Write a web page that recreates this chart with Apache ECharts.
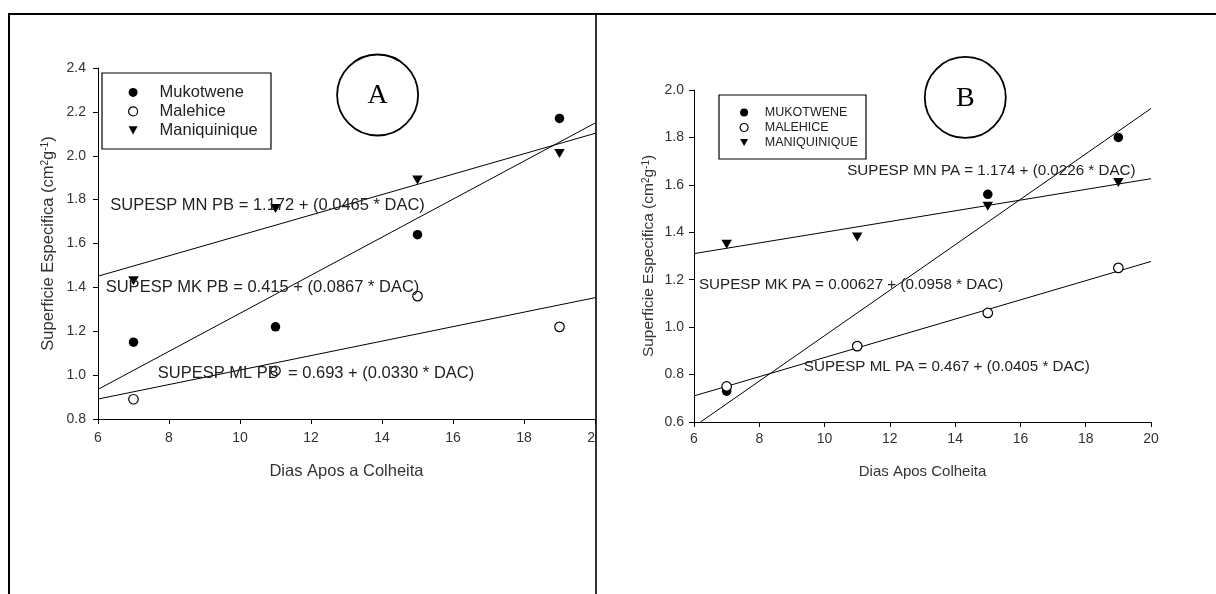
<!DOCTYPE html>
<html>
<head>
<meta charset="utf-8">
<script src="https://cdn.jsdelivr.net/npm/echarts@6/dist/echarts.min.js"></script>
<style>
html,body{margin:0;padding:0;background:#fff;}
#chart{width:1216px;height:594px;}
</style>
</head>
<body>
<div id="chart"></div>
<script>
// ---- Data ----
const daysA = [7, 11, 15, 19];
const mukotweneA = [1.15, 1.22, 1.64, 2.17];
const malehiceA = [0.89, 1.02, 1.36, 1.22];
const maniquiniqueA = [1.43, 1.76, 1.89, 2.01];

const daysB = [7, 11, 15, 19];
const mukotweneB = [0.73, 0.92, 1.56, 1.80];
const malehiceB = [0.75, 0.92, 1.06, 1.25];
const maniquiniqueB = [1.35, 1.38, 1.51, 1.61];

// regression line end points [x, y]
const fitMnA = [[6, 1.451], [20, 2.102]];
const fitMkA = [[6, 0.935], [20, 2.149]];
const fitMlA = [[6, 0.891], [20, 1.353]];
const fitMnB = [[6, 1.310], [20, 1.626]];
const fitMkB = [[6.2, 0.600], [20, 1.922]];
const fitMlB = [[6, 0.710], [20, 1.277]];

const yTicksA = [0.8, 1.0, 1.2, 1.4, 1.6, 1.8, 2.0, 2.2, 2.4];
const yTicksB = [0.6, 0.8, 1.0, 1.2, 1.4, 1.6, 1.8, 2.0];
const xTicks = [6, 8, 10, 12, 14, 16, 18, 20];

const legendA = ['Mukotwene', 'Malehice', 'Maniquinique'];
const legendB = ['MUKOTWENE', 'MALEHICE', 'MANIQUINIQUE'];

const eqA = ['SUPESP MN PB = 1.172 + (0.0465 * DAC)', 'SUPESP MK PB = 0.415 + (0.0867 * DAC)', 'SUPESP ML PB  = 0.693 + (0.0330 * DAC)'];
const eqB = ['SUPESP MN PA = 1.174 + (0.0226 * DAC)', 'SUPESP MK PA = 0.00627 + (0.0958 * DAC)', 'SUPESP ML PA = 0.467 + (0.0405 * DAC)'];

// ---- Build ----
const SANS = "'Liberation Sans', Arial, Helvetica, sans-serif";
const SERIF = "'Liberation Serif', 'Times New Roman', serif";
const TRI = 'path://M0,0L10,0L5,9Z';

function pairs(xs, ys) { return xs.map((x, i) => [x, ys[i]]); }

function xAxisCfg(gi, fs, margin, name, nameGap, nfs) {
  return {
    gridIndex: gi, type: 'value', min: xTicks[0], max: xTicks[xTicks.length - 1], interval: 2,
    name: name, nameLocation: 'middle', nameGap: nameGap,
    nameTextStyle: { fontFamily: SANS, fontSize: nfs, color: '#333' },
    axisLine: { onZero: false, lineStyle: { color: '#000', width: 1 } },
    axisTick: { show: true, inside: false, length: 5, lineStyle: { color: '#000', width: 1 } },
    axisLabel: { fontFamily: SANS, fontSize: fs, color: '#333', margin: margin },
    splitLine: { show: false }
  };
}
function yAxisCfg(gi, ticks, fs, margin, nameGap, nfs) {
  return {
    gridIndex: gi, type: 'value', min: ticks[0], max: ticks[ticks.length - 1], interval: 0.2,
    name: 'Superficie Especifica (cm{s|2}g{s|-1})', nameLocation: 'middle', nameGap: nameGap,
    nameTextStyle: { fontFamily: SANS, fontSize: nfs, color: '#333',
      rich: { s: { fontFamily: SANS, fontSize: Math.round(nfs * 0.62), color: '#333', verticalAlign: 'top' } } },
    axisLine: { onZero: false, lineStyle: { color: '#000', width: 1 } },
    axisTick: { show: true, inside: false, length: 5, lineStyle: { color: '#000', width: 1 } },
    axisLabel: { fontFamily: SANS, fontSize: fs, color: '#333', margin: margin, formatter: v => v.toFixed(1) },
    splitLine: { show: false }
  };
}
function fitSeries(idx, data) {
  return { type: 'line', xAxisIndex: idx, yAxisIndex: idx, data: data, symbol: 'none', silent: true,
    lineStyle: { color: '#000', width: 1 }, z: 1 };
}
function scatterSet(idx, names, ys, days, size, triSize) {
  return [
    { name: names[0], type: 'scatter', xAxisIndex: idx, yAxisIndex: idx, data: pairs(days, ys[0]),
      symbol: 'circle', symbolSize: size, itemStyle: { color: '#000', opacity: 1 }, z: 3 },
    { name: names[1], type: 'scatter', xAxisIndex: idx, yAxisIndex: idx, data: pairs(days, ys[1]),
      symbol: 'circle', symbolSize: size, itemStyle: { color: '#fff', borderColor: '#000', borderWidth: 1.2, opacity: 1 }, z: 3 },
    { name: names[2], type: 'scatter', xAxisIndex: idx, yAxisIndex: idx, data: pairs(days, ys[2]),
      symbol: TRI, symbolSize: triSize, itemStyle: { color: '#000', opacity: 1 }, z: 3 }
  ];
}
function legendCfg(names, left, top, fs, lh, icon, padLeft) {
  return {
    orient: 'vertical', left: left, top: top, padding: 0, itemGap: 0,
    itemWidth: icon, itemHeight: icon, selectedMode: false,
    textStyle: { fontFamily: SANS, fontSize: fs, lineHeight: lh, color: '#222', padding: [0, 0, 0, padLeft] },
    data: [
      { name: names[0], icon: 'circle', itemStyle: { color: '#000', borderWidth: 0, opacity: 1 } },
      { name: names[1], icon: 'circle', itemStyle: { color: '#fff', borderColor: '#000', borderWidth: 1.2, opacity: 1 } },
      { name: names[2], icon: TRI, itemStyle: { color: '#000', borderWidth: 0, opacity: 1 } }
    ]
  };
}
function eqText(txt, x, y, fs) {
  return { type: 'text', x: x, y: y, z: 50, silent: true,
    style: { text: txt, font: fs + 'px ' + SANS, fill: '#222', align: 'left', verticalAlign: 'middle',
      textAlign: 'left', textVerticalAlign: 'middle' } };
}
function badge(letter, cx, cy, r) {
  return [
    { type: 'circle', z: 50, silent: true, shape: { cx: cx, cy: cy, r: r }, style: { fill: 'none', stroke: '#000', lineWidth: 1.8 } },
    { type: 'text', x: cx, y: cy + 1, z: 51, silent: true,
      style: { text: letter, font: '28px ' + SERIF, fill: '#000', align: 'center', verticalAlign: 'middle',
        textAlign: 'center', textVerticalAlign: 'middle' } }
  ];
}

const option = {
  animation: false,
  backgroundColor: '#fff',
  grid: [
    { left: 98, top: 68, width: 497, height: 351, containLabel: false, outerBoundsMode: 'none' },
    { left: 694, top: 90, width: 457, height: 332, containLabel: false, outerBoundsMode: 'none' }
  ],
  xAxis: [
    xAxisCfg(0, 14, 12, 'Dias Apos a Colheita', 44, 16.5),
    xAxisCfg(1, 14, 10.5, 'Dias Apos Colheita', 42, 15)
  ],
  yAxis: [
    yAxisCfg(0, yTicksA, 14, 12, 41, 16.5),
    yAxisCfg(1, yTicksB, 14, 10, 37, 15.5)
  ],
  legend: [
    legendCfg(legendA, 128, 82.9, 16.5, 19, 9, 17),
    legendCfg(legendB, 739.5, 105, 12.5, 15, 8, 11.7)
  ],
  series: [
    fitSeries(0, fitMnA), fitSeries(0, fitMkA), fitSeries(0, fitMlA),
    fitSeries(1, fitMnB), fitSeries(1, fitMkB), fitSeries(1, fitMlB)
  ].concat(
    scatterSet(0, legendA, [mukotweneA, malehiceA, maniquiniqueA], daysA, 9.5, [10.5, 9]),
    scatterSet(1, legendB, [mukotweneB, malehiceB, maniquiniqueB], daysB, 9.5, [10.5, 9])
  ),
  graphic: [
    // legend frames
    { type: 'rect', z: 40, silent: true, shape: { x: 102, y: 73, width: 169, height: 76 }, style: { fill: 'none', stroke: '#000', lineWidth: 1.2 } },
    { type: 'rect', z: 40, silent: true, shape: { x: 719, y: 95, width: 147, height: 64 }, style: { fill: 'none', stroke: '#000', lineWidth: 1.2 } },
    // equations
    eqText(eqA[0], 110.3, 205.7, 16.5),
    eqText(eqA[1], 105.7, 287, 16.5),
    eqText(eqA[2], 157.8, 373.4, 16.5),
    eqText(eqB[0], 847.2, 171, 15.2),
    eqText(eqB[1], 698.9, 284.9, 15.2),
    eqText(eqB[2], 803.8, 367.2, 15.2)
  ].concat(
    badge('A', 377.6, 95, 40.5),
    badge('B', 965.3, 97.4, 40.5),
    [
      // mask right of panel A cell
      { type: 'rect', z: 90, silent: true, shape: { x: 596, y: 15, width: 36, height: 579 }, style: { fill: '#fff' } },
      // table frame
      { type: 'line', z: 95, silent: true, shape: { x1: 8, y1: 14, x2: 1216, y2: 14 }, style: { stroke: '#000', lineWidth: 2 } },
      { type: 'line', z: 95, silent: true, shape: { x1: 9, y1: 13, x2: 9, y2: 594 }, style: { stroke: '#000', lineWidth: 2 } },
      { type: 'line', z: 95, silent: true, shape: { x1: 596, y1: 13, x2: 596, y2: 594 }, style: { stroke: '#000', lineWidth: 1.6 } }
    ]
  )
};

const chart = echarts.init(document.getElementById('chart'), null, { renderer: 'canvas' });
chart.setOption(option);
</script>
</body>
</html>
